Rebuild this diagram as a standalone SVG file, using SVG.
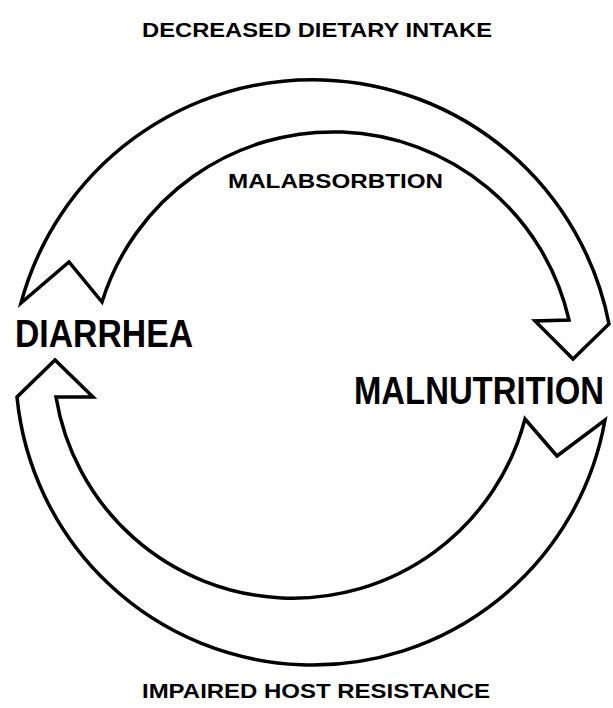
<svg xmlns="http://www.w3.org/2000/svg" width="613" height="708" viewBox="0 0 613 708">
<style>
.arrow{fill:#fff;stroke:#000;stroke-width:3.5;stroke-linejoin:miter}
.lbl{font-family:"Liberation Sans",Arial,sans-serif;font-weight:bold;fill:#000}
.small{font-size:20px}
.big{font-size:39px}
</style>
<rect width="613" height="708" fill="#fff"/>
<g id="connectors">
<path id="arrow-top" class="arrow" d="M21,303 A302,302 0 0 1 609,324 L573,359 L535,321 L569,320 A242,242 0 0 0 102,302 L69,262 Z"/>
<path id="arrow-bottom" class="arrow" d="M17,397 A297,297 0 0 0 605,420 L557,456 L525,419 A240,240 0 0 1 56,397 L93,397 L55,360 Z"/>
</g>
<g id="label-top"><text class="lbl small" x="142" y="37" textLength="350" lengthAdjust="spacingAndGlyphs">DECREASED DIETARY INTAKE</text></g>
<g id="label-malabsorbtion"><text class="lbl small" x="228" y="188" textLength="215" lengthAdjust="spacingAndGlyphs">MALABSORBTION</text></g>
<g id="node-diarrhea"><text class="lbl big" x="15" y="347" textLength="178" lengthAdjust="spacingAndGlyphs">DIARRHEA</text></g>
<g id="node-malnutrition"><text class="lbl" style="font-size:33px" transform="translate(354,404) scale(1,1.18)" x="0" y="0" textLength="250" lengthAdjust="spacingAndGlyphs">MALNUTRITION</text></g>
<g id="label-bottom"><text class="lbl small" x="142" y="698" textLength="348" lengthAdjust="spacingAndGlyphs">IMPAIRED HOST RESISTANCE</text></g>
</svg>
